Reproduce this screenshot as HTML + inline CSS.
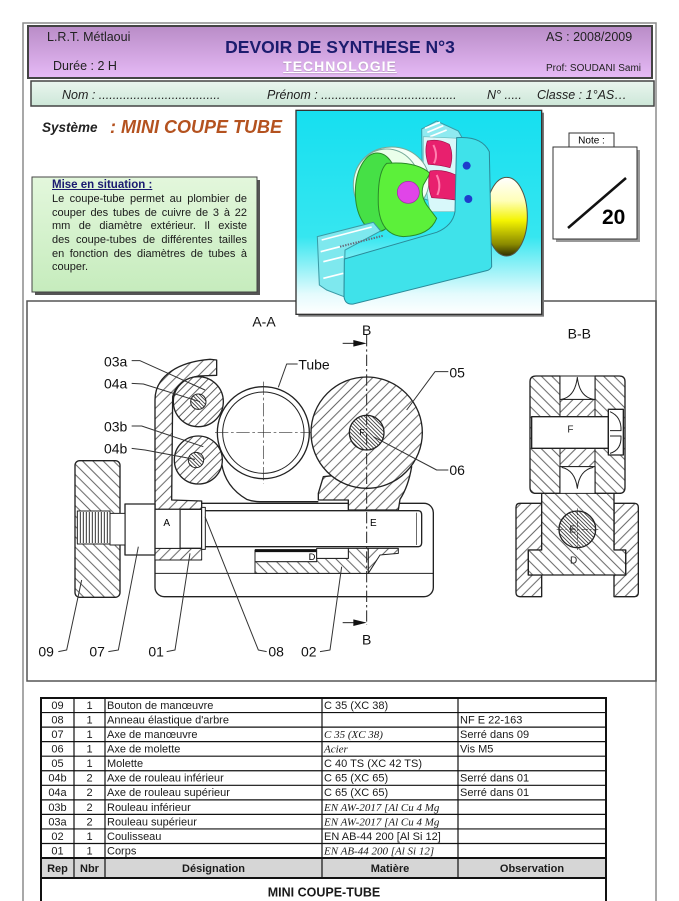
<!DOCTYPE html>
<html><head><meta charset="utf-8">
<style>
*{margin:0;padding:0}
body{width:679px;height:901px;overflow:hidden;background:#fff;position:relative;font-family:"Liberation Sans",Arial,sans-serif;color:#111}
.t{position:absolute;white-space:nowrap}
.pl{height:13.65px;font-size:11px;line-height:13.65px;text-align:justify;text-align-last:justify;color:#1a1a1a}
</style></head><body>
<svg width="679" height="901" style="position:absolute;left:0;top:0" xmlns="http://www.w3.org/2000/svg">
<defs>
 <linearGradient id="pur" x1="0" y1="0" x2="0" y2="1"><stop offset="0" stop-color="#b98cc7"/><stop offset="1" stop-color="#e6baf6"/></linearGradient>
 <linearGradient id="mint" x1="0" y1="0" x2="0" y2="1"><stop offset="0" stop-color="#eaf6ef"/><stop offset="1" stop-color="#cde7d8"/></linearGradient>
 <linearGradient id="grn" x1="0" y1="0" x2="0" y2="1"><stop offset="0" stop-color="#e3f7dc"/><stop offset="1" stop-color="#c6ecbd"/></linearGradient>
 <linearGradient id="cy" x1="0" y1="0" x2="0" y2="1"><stop offset="0" stop-color="#16dff0"/><stop offset="0.62" stop-color="#36e6f0"/><stop offset="0.9" stop-color="#e4fbfd"/><stop offset="1" stop-color="#fff"/></linearGradient>
 <linearGradient id="yl" x1="0" y1="0" x2="0" y2="1"><stop offset="0" stop-color="#ffffff"/><stop offset="0.3" stop-color="#ffffb8"/><stop offset="0.55" stop-color="#f4f400"/><stop offset="0.85" stop-color="#8a8a00"/><stop offset="1" stop-color="#2e2e00"/></linearGradient>
 <pattern id="hA" patternUnits="userSpaceOnUse" width="22" height="22" patternTransform="rotate(45)"><rect width="22" height="22" fill="#fff"/><line x1="11" y1="0" x2="11" y2="22" stroke="#444" stroke-width="2.5"/></pattern>
 <pattern id="hB" patternUnits="userSpaceOnUse" width="22" height="22" patternTransform="rotate(-45)"><rect width="22" height="22" fill="#fff"/><line x1="11" y1="0" x2="11" y2="22" stroke="#444" stroke-width="2.5"/></pattern>
 <pattern id="hC" patternUnits="userSpaceOnUse" width="18" height="18" patternTransform="rotate(45)"><rect width="18" height="18" fill="#fff"/><line x1="9" y1="0" x2="9" y2="18" stroke="#444" stroke-width="2.5"/></pattern>
 <pattern id="hD" patternUnits="userSpaceOnUse" width="8" height="8" patternTransform="rotate(-45)"><rect width="8" height="8" fill="#fff"/><line x1="4" y1="0" x2="4" y2="8" stroke="#333" stroke-width="2.5"/></pattern>
</defs>

<rect x="23" y="23" width="633" height="900" fill="none" stroke="#8c8c8c" stroke-width="1.5"/>
<rect x="28" y="26" width="624" height="52" fill="url(#pur)" stroke="#444" stroke-width="2"/>
<rect x="31" y="81" width="623" height="25" fill="url(#mint)" stroke="#444" stroke-width="1.5"/>

<rect x="27" y="301" width="629" height="380" fill="none" stroke="#555" stroke-width="1.5"/>

<rect x="35" y="180" width="225" height="115" fill="#555"/>
<rect x="32" y="177" width="225" height="115" fill="url(#grn)" stroke="#444" stroke-width="1"/>

<rect x="556" y="150" width="84" height="92" fill="#999"/>
<rect x="553" y="147" width="84" height="92" fill="#fff" stroke="#333" stroke-width="1"/>
<rect x="569" y="133" width="45" height="14" fill="#fff" stroke="#333" stroke-width="1"/>
<text x="591.5" y="143.5" font-size="10" text-anchor="middle" font-family="Liberation Sans, Arial, sans-serif">Note :</text>
<line x1="568" y1="228" x2="626" y2="178" stroke="#111" stroke-width="2.5"/>
<text x="602" y="224" font-size="21" font-weight="bold" font-family="Liberation Sans, Arial, sans-serif">20</text>

<g transform="translate(290,105) scale(0.33333)">
 <rect x="25" y="23" width="737" height="612" fill="#777"/>
 <rect x="18" y="16" width="737" height="612" fill="url(#cy)" stroke="#333" stroke-width="4"/>
 <ellipse cx="650" cy="335" rx="62" ry="118" fill="url(#yl)" stroke="#554" stroke-width="3"/>
 <path d="M395,72 L440,48 L505,78 L520,105 L515,320 L398,280 Z" fill="#8feaf0" stroke="#3a9aa5" stroke-width="3"/>
 <path d="M405,70 L450,52 M412,82 L460,62 M420,95 L470,75" stroke="#fff" stroke-width="5"/>
 <path d="M400,95 L505,100 L505,320 L420,320 L400,200 Z" fill="#d8f8fa" stroke="#6bb" stroke-width="2"/>
 <ellipse cx="305" cy="228" rx="112" ry="102" fill="#f4fff6" stroke="#7a9" stroke-width="3"/>
 <ellipse cx="290" cy="240" rx="100" ry="108" fill="#eaffea" stroke="#7a9" stroke-width="3"/>
 <ellipse cx="262" cy="262" rx="66" ry="118" fill="#46e046" stroke="#2a8a2a" stroke-width="3"/>
 <path d="M290,175 Q380,168 420,205 L400,240 Q390,270 410,300 L440,340 Q420,392 340,395 Q270,390 265,300 Q262,200 290,175 Z" fill="#5cf03a" stroke="#2a8a2a" stroke-width="3"/>
 <circle cx="355" cy="262" r="33" fill="#e045e8" stroke="#a020a8" stroke-width="2"/>
 <path d="M412,108 Q445,100 478,118 Q492,150 480,188 Q450,180 415,178 Q402,140 412,108 Z" fill="#e8206e" stroke="#a01048" stroke-width="2"/>
 <path d="M420,198 Q460,192 498,210 Q512,245 498,285 Q460,280 425,278 Q410,240 420,198 Z" fill="#e8206e" stroke="#a01048" stroke-width="2"/>
 <path d="M430,120 Q445,150 432,175 M440,210 Q455,240 442,270" stroke="#ff80b0" stroke-width="6" fill="none"/>
 <path d="M82,395 L250,352 L272,378 L165,435 L162,575 L110,555 L88,540 Z" fill="#7ee8ee" stroke="#3a9aa5" stroke-width="3"/>
 <path d="M95,405 L245,366 M100,470 L160,455 M100,520 L160,505 M92,440 L150,425" stroke="#fff" stroke-width="5"/>
 <path d="M150,425 L280,392" stroke="#667" stroke-width="6" stroke-dasharray="4,4"/>
 <path d="M500,98 Q575,92 598,140 L605,485 Q600,495 590,497 L190,597 Q165,600 162,575 L163,462 L440,382 Q488,362 495,320 Z" fill="#3fe2ea" stroke="#2a8a99" stroke-width="3"/>
 <circle cx="530" cy="182" r="12" fill="#1e3ccc"/>
 <circle cx="535" cy="282" r="12" fill="#1e3ccc"/>
</g>

<g transform="translate(20,300) scale(0.33333)" stroke-linejoin="round" font-family="Liberation Sans, Arial, sans-serif">
 <rect x="405" y="610" width="835" height="280" rx="28" fill="#fff" stroke="#222" stroke-width="4"/>
 <line x1="405" y1="820" x2="1240" y2="820" stroke="#222" stroke-width="3"/>
 <path d="M405,300 C405,225 480,185 570,178 L590,180 L590,226 L535,228 Q470,240 458,290 L455,600 L545,603 L545,628 L405,628 Z" fill="url(#hA)" stroke="#222" stroke-width="4"/>
 <rect x="405" y="745" width="140" height="35" fill="url(#hA)" stroke="#222" stroke-width="3"/>
 <path d="M895,580 L910,530 L1175,500 Q1165,560 1140,598 L1135,630 L985,630 L985,600 L895,600 Z" fill="url(#hA)" stroke="#222" stroke-width="4"/>
 <path d="M605,490 Q615,560 680,598 Q700,605 720,605 L895,605" fill="none" stroke="#222" stroke-width="4"/>
 <path d="M705,785 L890,785 L890,775 L985,775 L985,745 L1045,745 L1045,820 L705,820 Z" fill="url(#hB)" stroke="#222" stroke-width="3"/>
 <rect x="705" y="750" width="185" height="35" fill="#fff" stroke="#222" stroke-width="3"/>
 <line x1="705" y1="752" x2="890" y2="752" stroke="#111" stroke-width="9"/>
 <rect x="890" y="745" width="95" height="30" fill="#fff" stroke="#222" stroke-width="3"/>
 <text x="866" y="780" font-size="28">D</text>
 <path d="M1045,745 L1135,745 L1135,760 L1080,765 L1045,820 Z" fill="url(#hA)" stroke="#222" stroke-width="3"/>
 <path d="M545,632 L1195,632 Q1205,632 1205,645 L1205,728 Q1205,740 1195,740 L545,740 Z" fill="#fff" stroke="#222" stroke-width="4"/>
 <line x1="1190" y1="638" x2="1190" y2="735" stroke="#222" stroke-width="2"/>
 <text x="1050" y="678" font-size="30">E</text>
 <rect x="480" y="628" width="65" height="117" fill="#fff" stroke="#222" stroke-width="4"/>
 <rect x="545" y="622" width="11" height="126" fill="#fff" stroke="#222" stroke-width="3"/>
 <rect x="405" y="628" width="75" height="117" fill="#fff" stroke="#222" stroke-width="3"/>
 <text x="430" y="678" font-size="30">A</text>
 <rect x="315" y="612" width="90" height="153" fill="#fff" stroke="#222" stroke-width="4"/>
 <rect x="165" y="482" width="135" height="410" rx="14" fill="url(#hB)" stroke="#222" stroke-width="4"/>
 <rect x="270" y="640" width="45" height="95" fill="#fff" stroke="#222" stroke-width="3"/>
 <rect x="172" y="633" width="98" height="99" fill="#fff" stroke="#222" stroke-width="3"/>
 <path d="M181,636V729M190,636V729M199,636V729M208,636V729M217,636V729M226,636V729M235,636V729M244,636V729M253,636V729M262,636V729" stroke="#333" stroke-width="3"/>
 <circle cx="535" cy="305" r="75" fill="url(#hC)" stroke="#222" stroke-width="4"/>
 <circle cx="535" cy="305" r="23" fill="url(#hD)" stroke="#222" stroke-width="3"/>
 <circle cx="535" cy="480" r="72" fill="url(#hC)" stroke="#222" stroke-width="4"/>
 <circle cx="528" cy="480" r="23" fill="url(#hD)" stroke="#222" stroke-width="3"/>
 <circle cx="730" cy="398" r="138" fill="#fff" stroke="#222" stroke-width="4"/>
 <circle cx="730" cy="398" r="122" fill="#fff" stroke="#222" stroke-width="3"/>
 <path d="M585,398H880M730,245V550" stroke="#333" stroke-width="2" stroke-dasharray="40,8,8,8"/>
 <circle cx="1040" cy="398" r="167" fill="url(#hA)" stroke="#222" stroke-width="4"/>
 <circle cx="1040" cy="398" r="52" fill="url(#hD)" stroke="#222" stroke-width="4"/>
 <text x="1018" y="405" font-size="26">F</text>
 <path d="M1040,105V975" stroke="#222" stroke-width="3" stroke-dasharray="34,9,7,9"/>
 <line x1="968" y1="130" x2="1010" y2="130" stroke="#222" stroke-width="3"/>
 <path d="M1000,120 L1040,130 L1000,140 Z" fill="#111"/>
 <line x1="968" y1="968" x2="1010" y2="968" stroke="#222" stroke-width="3"/>
 <path d="M1000,958 L1040,968 L1000,978 Z" fill="#111"/>
 <g fill="none" stroke="#333" stroke-width="3">
  <path d="M335,182 L360,182 L555,270"/>
  <path d="M335,250 L370,252 L540,305"/>
  <path d="M335,378 L365,378 L550,440"/>
  <path d="M335,445 L375,450 L525,478"/>
  <path d="M833,192 L800,192 L775,262"/>
  <path d="M1285,215 L1245,215 L1160,330"/>
  <path d="M1285,510 L1250,510 L1060,410"/>
  <path d="M115,1055 L140,1050 L185,840"/>
  <path d="M265,1055 L295,1050 L355,740"/>
  <path d="M440,1055 L465,1050 L510,760"/>
  <path d="M740,1055 L715,1050 L555,650"/>
  <path d="M900,1055 L930,1050 L965,800"/>
 </g>
 <g font-size="42" fill="#111">
  <text x="252" y="200">03a</text>
  <text x="252" y="265">04a</text>
  <text x="252" y="395">03b</text>
  <text x="252" y="460">04b</text>
  <text x="835" y="208">Tube</text>
  <text x="1288" y="233">05</text>
  <text x="1288" y="525">06</text>
  <text x="55" y="1070">09</text>
  <text x="208" y="1070">07</text>
  <text x="385" y="1070">01</text>
  <text x="745" y="1070">08</text>
  <text x="843" y="1070">02</text>
  <text x="732" y="80" text-anchor="middle">A-A</text>
  <text x="1040" y="105" text-anchor="middle">B</text>
  <text x="1040" y="1033" text-anchor="middle">B</text>
 </g>
</g>

<g transform="translate(460,300) scale(0.33333)" stroke-linejoin="round" font-family="Liberation Sans, Arial, sans-serif">
 <text x="358" y="115" font-size="42" text-anchor="middle" fill="#111">B-B</text>
 <path d="M180,610 L245,610 L245,750 L205,750 L205,825 L245,825 L245,890 L180,890 Q168,890 168,878 L168,622 Q168,610 180,610 Z" fill="url(#hA)" stroke="#222" stroke-width="4"/>
 <path d="M523,610 L462,610 L462,750 L497,750 L497,825 L462,825 L462,890 L523,890 Q535,890 535,878 L535,622 Q535,610 523,610 Z" fill="url(#hA)" stroke="#222" stroke-width="4"/>
 <path d="M245,570 L462,570 L462,750 L497,750 L497,825 L205,825 L205,750 L245,750 Z" fill="url(#hB)" stroke="#222" stroke-width="4"/>
 <path d="M228,228 L300,228 L300,298 L405,298 L405,228 L478,228 Q495,228 495,245 L495,562 Q495,580 478,580 L405,580 L405,500 L300,500 L300,580 L228,580 Q210,580 210,562 L210,245 Q210,228 228,228 Z" fill="url(#hB)" stroke="#222" stroke-width="4"/>
 <rect x="300" y="298" width="105" height="52" fill="url(#hA)" stroke="#222" stroke-width="3"/>
 <rect x="300" y="445" width="105" height="55" fill="url(#hA)" stroke="#222" stroke-width="3"/>
 <rect x="300" y="228" width="105" height="70" fill="#fff" stroke="#222" stroke-width="3"/>
 <path d="M305,298 Q345,290 352,232 Q358,290 400,298" fill="none" stroke="#222" stroke-width="3"/>
 <rect x="300" y="500" width="105" height="80" fill="#fff" stroke="#222" stroke-width="3"/>
 <path d="M305,502 Q345,510 352,565 Q358,510 400,502" fill="none" stroke="#222" stroke-width="3"/>
 <rect x="215" y="350" width="230" height="95" fill="#fff" stroke="#222" stroke-width="4"/>
 <text x="322" y="398" font-size="30" fill="#222">F</text>
 <rect x="445" y="328" width="45" height="137" fill="#fff" stroke="#222" stroke-width="4"/>
 <path d="M450,335 Q485,350 483,392 L450,392 M450,408 L483,408 Q485,450 450,460" fill="none" stroke="#222" stroke-width="3"/>
 <circle cx="352" cy="688" r="55" fill="url(#hD)" stroke="#222" stroke-width="4"/>
 <path d="M290,688H415M352,625V750" stroke="#333" stroke-width="2" stroke-dasharray="20,6,5,6"/>
 <text x="328" y="698" font-size="30" fill="#222">E</text>
 <text x="330" y="790" font-size="30" fill="#222">D</text>
</g>

<rect x="41" y="858" width="565" height="20" fill="#d6d6d6"/>
<g stroke="#111" fill="none">
 <rect x="41" y="698" width="565" height="215" stroke-width="2"/>
 <path d="M74,698V878M105,698V878M322,698V878M458,698V878" stroke-width="1.2"/>
 <path d="M41,712.55H606M41,727.1H606M41,741.65H606M41,756.2H606M41,770.75H606M41,785.3H606M41,799.85H606M41,814.4H606M41,828.95H606M41,843.5H606" stroke-width="1.2"/>
 <path d="M41,858H606M41,878H606" stroke-width="2"/>
</g>
<g font-family="Liberation Sans, Arial, sans-serif" font-size="11" fill="#1a1a1a">
 <g text-anchor="middle">
  <text x="57.5" y="709">09</text><text x="57.5" y="723.5">08</text><text x="57.5" y="738">07</text><text x="57.5" y="752.6">06</text><text x="57.5" y="767.1">05</text><text x="57.5" y="781.7">04b</text><text x="57.5" y="796.2">04a</text><text x="57.5" y="810.8">03b</text><text x="57.5" y="825.3">03a</text><text x="57.5" y="839.9">02</text><text x="57.5" y="854.4">01</text>
  <text x="89.5" y="709">1</text><text x="89.5" y="723.5">1</text><text x="89.5" y="738">1</text><text x="89.5" y="752.6">1</text><text x="89.5" y="767.1">1</text><text x="89.5" y="781.7">2</text><text x="89.5" y="796.2">2</text><text x="89.5" y="810.8">2</text><text x="89.5" y="825.3">2</text><text x="89.5" y="839.9">1</text><text x="89.5" y="854.4">1</text>
 </g>
 <text x="107" y="709">Bouton de manœuvre</text>
 <text x="107" y="723.5">Anneau élastique d'arbre</text>
 <text x="107" y="738">Axe de manœuvre</text>
 <text x="107" y="752.6">Axe de molette</text>
 <text x="107" y="767.1">Molette</text>
 <text x="107" y="781.7">Axe de rouleau inférieur</text>
 <text x="107" y="796.2">Axe de rouleau supérieur</text>
 <text x="107" y="810.8">Rouleau inférieur</text>
 <text x="107" y="825.3">Rouleau supérieur</text>
 <text x="107" y="839.9">Coulisseau</text>
 <text x="107" y="854.4">Corps</text>
 <text x="324" y="709">C 35 (XC 38)</text>
 <text x="324" y="738" font-family="Liberation Serif, serif" font-style="italic">C 35 (XC 38)</text>
 <text x="324" y="752.6" font-family="Liberation Serif, serif" font-style="italic">Acier</text>
 <text x="324" y="767.1">C 40 TS (XC 42 TS)</text>
 <text x="324" y="781.7">C 65 (XC 65)</text>
 <text x="324" y="796.2">C 65 (XC 65)</text>
 <text x="324" y="810.8" font-family="Liberation Serif, serif" font-style="italic">EN AW-2017 [Al Cu 4 Mg</text>
 <text x="324" y="825.3" font-family="Liberation Serif, serif" font-style="italic">EN AW-2017 [Al Cu 4 Mg</text>
 <text x="324" y="839.9">EN AB-44 200 [Al Si 12]</text>
 <text x="324" y="854.4" font-family="Liberation Serif, serif" font-style="italic">EN AB-44 200 [Al Si 12]</text>
 <text x="460" y="723.5">NF E 22-163</text>
 <text x="460" y="738">Serré dans 09</text>
 <text x="460" y="752.6">Vis M5</text>
 <text x="460" y="781.7">Serré dans 01</text>
 <text x="460" y="796.2">Serré dans 01</text>
 <g font-weight="bold" text-anchor="middle">
  <text x="57.5" y="872">Rep</text><text x="89.5" y="872">Nbr</text><text x="213.5" y="872">Désignation</text><text x="390" y="872">Matière</text><text x="532" y="872">Observation</text>
  <text x="324" y="896.5" font-size="12.5">MINI COUPE-TUBE</text>
 </g>
</g>
</svg>

<div class="t" style="left:47px;top:30px;font-size:12.5px;line-height:14px;color:#222">L.R.T. Métlaoui</div>
<div class="t" style="left:53px;top:59px;font-size:12.5px;line-height:14px;color:#222">Durée : 2 H</div>
<div class="t" style="left:140px;width:400px;text-align:center;top:37px;font-size:17.5px;line-height:20px;font-weight:bold;color:#1c1c6e">DEVOIR DE SYNTHESE N°3</div>
<div class="t" style="left:190px;width:300px;text-align:center;top:58px;font-size:14px;line-height:16px;font-weight:bold;color:#fff;letter-spacing:1px;text-decoration:underline;text-shadow:0 1px 1px #b8a0c0">TECHNOLOGIE</div>
<div class="t" style="left:546px;top:30px;font-size:12.5px;line-height:14px;color:#222">AS : 2008/2009</div>
<div class="t" style="left:546px;top:63px;font-size:10px;line-height:12px;color:#222">Prof: SOUDANI Sami</div>

<div class="t" style="left:62px;top:88px;font-size:12.5px;line-height:15px;font-style:italic;color:#222">Nom : ...................................</div>
<div class="t" style="left:267px;top:88px;font-size:12.5px;line-height:15px;font-style:italic;color:#222">Prénom : .......................................</div>
<div class="t" style="left:487px;top:88px;font-size:12.5px;line-height:15px;font-style:italic;color:#222">N° .....</div>
<div class="t" style="left:537px;top:88px;font-size:12.5px;line-height:15px;font-style:italic;color:#222">Classe : 1°AS…</div>

<div class="t" style="left:42px;top:120px;font-size:13.5px;line-height:16px;font-weight:bold;font-style:italic;color:#222">Système</div>
<div class="t" style="left:110px;top:117px;font-size:18px;line-height:20px;font-weight:bold;font-style:italic;color:#b4521f">: MINI COUPE TUBE</div>

<div class="t" style="left:52px;top:178px;font-size:11.5px;line-height:14px;font-weight:bold;color:#1a1a70;text-decoration:underline">Mise en situation :</div>
<div style="position:absolute;left:52px;top:193.2px;width:195px">
 <div class="pl">Le coupe-tube permet au plombier de</div>
 <div class="pl">couper des tubes de cuivre de 3 à 22</div>
 <div class="pl">mm de diamètre extérieur. Il existe</div>
 <div class="pl">des coupe-tubes de différentes tailles</div>
 <div class="pl">en fonction des diamètres de tubes à</div>
 <div class="pl" style="text-align-last:left">couper.</div>
</div>
</body></html>
